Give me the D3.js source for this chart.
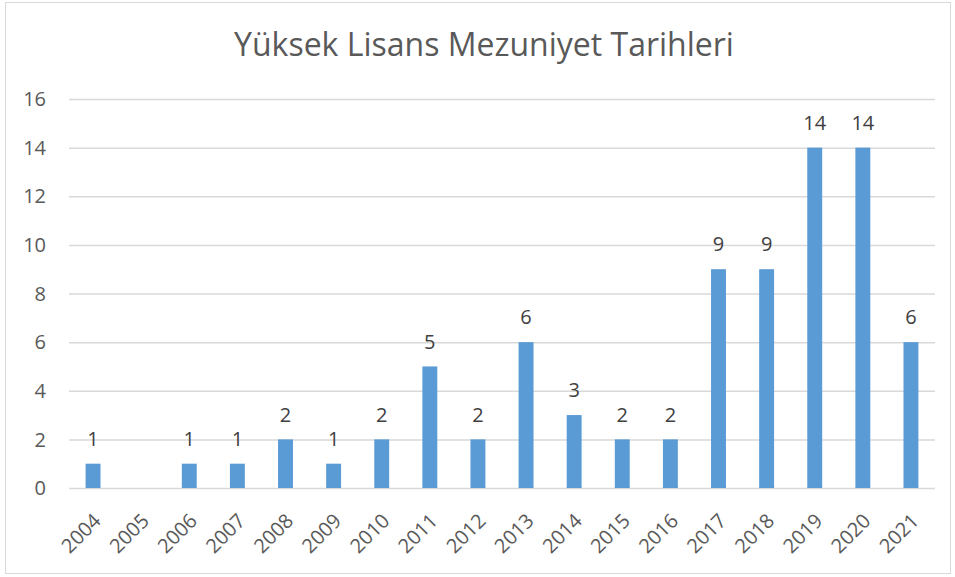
<!DOCTYPE html>
<html>
<head>
<meta charset="utf-8">
<script src="https://cdn.jsdelivr.net/npm/d3@7"></script>
<style>
  body { margin: 0; background: #fff; }
  text { font-family: "Open Sans", "Noto Sans", sans-serif; fill: #595959; }
</style>
</head>
<body>
<div></div>
<script>
const title = "Yüksek Lisans Mezuniyet Tarihleri";
const years = ["2004", "2005", "2006", "2007", "2008", "2009", "2010", "2011", "2012",
  "2013", "2014", "2015", "2016", "2017", "2018", "2019", "2020", "2021"];
const counts = [1, 0, 1, 1, 2, 1, 2, 5, 2, 6, 3, 2, 2, 9, 9, 14, 14, 6];
const yTicks = [0, 2, 4, 6, 8, 10, 12, 14, 16];

let dimension = {
    width: 955,
    height: 577,
    margin: { top: 99, left: 69, right: 20, bottom: 89 }
};

let svg = d3.select("div")
    .append("svg")
    .attr("width", dimension.width)
    .attr("height", dimension.height);

// chart border
svg.append("rect")
    .attr("x", 5.5).attr("y", 2.5)
    .attr("width", 945).attr("height", 571)
    .attr("fill", "#fff")
    .attr("stroke", "#d9d9d9");

let X = d3.scaleBand()
    .domain(years)
    .range([dimension.margin.left, dimension.width - dimension.margin.right])
    .paddingInner(0.69)
    .paddingOuter(0.345);

let Y = d3.scaleLinear()
    .domain([0, 16])
    .range([dimension.height - dimension.margin.bottom, dimension.margin.top]);

// grid lines
svg.append("g")
    .selectAll("line")
    .data(yTicks)
    .enter()
    .append("line")
    .attr("x1", dimension.margin.left)
    .attr("x2", dimension.width - dimension.margin.right)
    .attr("y1", d => Y(d) + 0.5)
    .attr("y2", d => Y(d) + 0.5)
    .attr("stroke", "#d9d9d9")
    .attr("stroke-width", 1.5);

// y labels
svg.append("g")
    .selectAll("text")
    .data(yTicks)
    .enter()
    .append("text")
    .attr("x", 46)
    .attr("y", d => Y(d))
    .attr("dy", "0.36em")
    .attr("text-anchor", "end")
    .style("font-size", "20px")
    .text(d => d);

// bars
svg.append("g")
    .selectAll("rect")
    .data(counts)
    .enter()
    .append("rect")
    .attr("x", (d, i) => X(years[i]))
    .attr("y", d => Y(d))
    .attr("width", X.bandwidth())
    .attr("height", d => Y(0) - Y(d))
    .attr("fill", "#5b9bd5");

// value labels (zero bars get none)
svg.selectAll(".vlabel")
    .data(counts.map((c, i) => ({ year: years[i], c: c })).filter(d => d.c > 0))
    .enter()
    .append("text")
    .attr("class", "vlabel")
    .attr("x", d => X(d.year) + X.bandwidth() / 2)
    .attr("y", d => Y(d.c) - 25)
    .attr("dy", "0.36em")
    .attr("text-anchor", "middle")
    .style("font-size", "20px")
    .style("fill", "#404040")
    .text(d => d.c);

// x labels, rotated
svg.append("g")
    .selectAll("text")
    .data(years)
    .enter()
    .append("text")
    .attr("transform", d => `translate(${X(d) + X.bandwidth() / 2 + 4},${Y(0) + 29}) rotate(-45)`)
    .attr("text-anchor", "end")
    .attr("dy", "0.36em")
    .style("font-size", "20px")
    .text(d => d);

// title
svg.append("text")
    .attr("x", 484)
    .attr("y", 44)
    .attr("dy", "0.36em")
    .attr("text-anchor", "middle")
    .style("font-size", "32px")
    .text(title);
</script>
</body>
</html>
